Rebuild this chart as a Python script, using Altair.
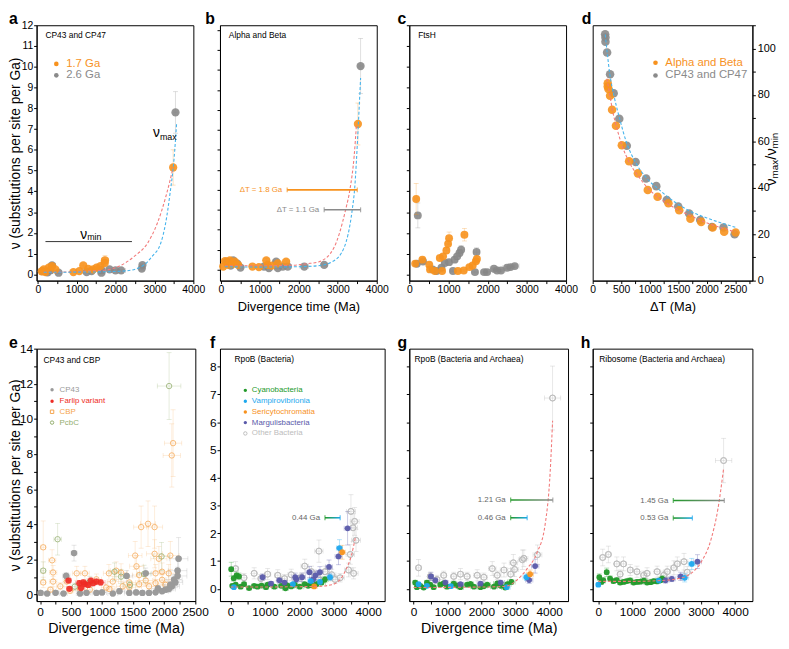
import altair as alt
import pandas as pd

FONT = "Liberation Sans"
ORANGE = "#F7921E"
GRAY = "#8A8A8A"
RED_FIT = "#F27A7A"
BLUE_FIT = "#46B4EC"
CYANO = "#22992A"
VAMP = "#1DA8EE"
SERI = "#F7921E"
MARG = "#5A5AAA"
OTHER = "#BDBDBD"
CP43C = "#9A9A9A"
FARLIP = "#EE2B24"
CBPC = "#F5A54E"
PCBC = "#93AE6E"

DUMMY = pd.DataFrame({"k": [0]})

# ---------------- tick values ----------------
X_TICKS_ABC = [0, 500, 1000, 1500, 2000, 2500, 3000, 3500, 4000]
Y_TICKS_ABC = [0, 0.5, 1, 1.5, 2, 2.5, 3, 3.5, 4, 4.5, 5, 5.5, 6, 6.5, 7, 7.5, 8, 8.5, 9, 9.5, 10, 10.5, 11, 11.5, 12]
X_TICKS_D = [0, 250, 500, 750, 1000, 1250, 1500, 1750, 2000, 2250, 2500, 2750]
Y_TICKS_D = [0, 10, 20, 30, 40, 50, 60, 70, 80, 90, 100, 110]
X_TICKS_E = [0, 250, 500, 750, 1000, 1250, 1500, 1750, 2000, 2250, 2500]
Y_TICKS_E = [0, 1, 2, 3, 4, 5, 6, 7, 8, 9, 10, 11, 12, 13, 14]
X_TICKS_FGH = [0, 500, 1000, 1500, 2000, 2500, 3000, 3500, 4000]
Y_TICKS_FGH = [0, 0.5, 1, 1.5, 2, 2.5, 3, 3.5, 4, 4.5, 5, 5.5, 6, 6.5, 7, 7.5, 8]

# ---------------- data: (x, y, x error, y error) ----------------
A_ORANGE = [(152, 0.24, 60, 0.06), (279, 0.32, 70, 0.08), (195, 0.11, 60, 0.05), (365, 0.40, 80, 0.08),
            (449, 0.24, 70, 0.06), (100, 0.15, 50, 0.05), (914, 0.11, 60, 0.05), (1066, 0.16, 70, 0.05),
            (1168, 0.43, 80, 0.08), (1294, 0.27, 70, 0.06), (1421, 0.24, 80, 0.06), (1508, 0.32, 80, 0.08),
            (1609, 0.40, 90, 0.08), (1718, 0.55, 90, 0.12), (1726, 0.68, 90, 0.22), (3480, 5.15, 40, 0.85)]
A_GRAY = [(111, 0.16, 60, 0.05), (322, 0.20, 70, 0.05), (365, 0.43, 80, 0.08), (533, 0.08, 70, 0.04),
          (250, 0.10, 60, 0.04), (1254, 0.11, 80, 0.04), (1381, 0.16, 80, 0.05), (1635, 0.20, 90, 0.05),
          (1635, 0.08, 90, 0.04), (1845, 0.24, 100, 0.05), (1997, 0.19, 100, 0.05), (2142, 0.19, 110, 0.05),
          (2673, 0.28, 60, 0.06), (2690, 0.45, 60, 0.08), (3540, 7.80, 40, 1.0)]
A_RED_X = [150, 600, 1000, 1400, 1850, 2100, 2480, 2820, 3070, 3300, 3480]
A_RED_Y = [0.10, 0.11, 0.13, 0.17, 0.24, 0.40, 0.87, 1.50, 2.45, 3.80, 5.15]
A_BLUE_X = [150, 1000, 1800, 2270, 2690, 2940, 3160, 3285, 3400, 3500, 3570]
A_BLUE_Y = [0.10, 0.11, 0.13, 0.17, 0.40, 0.87, 1.50, 2.45, 3.90, 5.50, 7.30]

B_ORANGE = [(59, 0.16, 50, 0.05), (102, 0.43, 60, 0.08), (187, 0.24, 60, 0.06), (229, 0.47, 70, 0.1),
            (357, 0.40, 70, 0.1), (441, 0.24, 70, 0.06), (300, 0.30, 60, 0.06), (808, 0.16, 70, 0.05),
            (975, 0.13, 70, 0.05), (1164, 0.47, 80, 0.1), (1200, 0.24, 80, 0.06), (1460, 0.32, 90, 0.06),
            (1673, 0.40, 90, 0.08), (1300, 0.20, 80, 0.05), (3516, 7.30, 40, 1.05)]
B_GRAY = [(144, 0.40, 60, 0.08), (314, 0.47, 70, 0.1), (501, 0.11, 60, 0.04), (250, 0.20, 60, 0.05),
          (420, 0.30, 60, 0.06), (1104, 0.16, 80, 0.05), (1231, 0.08, 80, 0.04), (1418, 0.40, 90, 0.08),
          (1460, 0.08, 90, 0.04), (1588, 0.16, 90, 0.05), (1715, 0.16, 100, 0.05), (2140, 0.16, 110, 0.05),
          (2650, 0.24, 70, 0.05), (3585, 10.20, 40, 1.38)]
B_RED_X = [100, 1000, 1800, 2200, 2520, 2900, 3200, 3310, 3420, 3480]
B_RED_Y = [0.20, 0.20, 0.22, 0.30, 0.40, 1.10, 3.00, 4.00, 5.70, 7.30]
B_BLUE_X = [100, 1000, 2000, 2500, 2860, 3160, 3370, 3430, 3520, 3585]
B_BLUE_Y = [0.15, 0.13, 0.15, 0.20, 0.40, 1.10, 3.00, 4.00, 7.00, 9.60]
B_DT_LABELS = ["ΔT = 1.8 Ga", "ΔT = 1.1 Ga"]
B_DT_START = [1700, 2650]
B_DT_END = [3500, 3585]
B_DT_Y = [4.0, 3.0]

C_ORANGE = [(176, 3.63, 40, 0.75), (151, 0.52, 50, 0.08), (334, 0.71, 60, 0.12), (510, 0.47, 60, 0.1),
            (528, 0.24, 60, 0.06), (653, 0.16, 60, 0.05), (779, 0.79, 70, 0.12), (862, 0.87, 70, 0.12),
            (947, 1.15, 70, 0.15), (990, 1.47, 70, 0.2), (1015, 1.74, 70, 0.3), (1407, 1.91, 80, 0.3),
            (837, 0.16, 60, 0.05), (1240, 0.16, 70, 0.05), (1390, 0.19, 70, 0.05), (1533, 0.35, 80, 0.06),
            (1617, 0.43, 80, 0.08), (1700, 0.63, 80, 0.1), (1725, 0.74, 80, 0.12)]
C_GRAY = [(218, 2.84, 40, 0.6), (193, 0.51, 50, 0.08), (350, 0.62, 60, 0.1), (595, 0.24, 60, 0.06),
          (696, 0.16, 60, 0.05), (821, 0.32, 70, 0.06), (905, 0.55, 70, 0.1), (1015, 0.59, 70, 0.1),
          (1114, 0.16, 70, 0.05), (1156, 0.71, 80, 0.12), (1222, 0.87, 80, 0.15), (1281, 1.03, 80, 0.15),
          (1323, 1.19, 80, 0.2), (1716, 1.08, 80, 0.2), (1675, 0.11, 80, 0.04), (1910, 0.11, 90, 0.04),
          (1985, 0.11, 90, 0.04), (2160, 0.27, 100, 0.05), (2240, 0.19, 100, 0.05), (2340, 0.19, 100, 0.05),
          (2495, 0.32, 110, 0.06), (2580, 0.35, 110, 0.06), (2690, 0.40, 110, 0.06)]

D_GRAY_X = [218, 224, 224, 253, 305, 368, 466, 598, 753, 937, 1115, 1299, 1500, 1690, 1885, 2092, 2293, 2488]
D_GRAY_Y = [106.1, 104.7, 102.9, 98.3, 88.9, 80.7, 69.7, 58.1, 51.1, 44.0, 40.7, 34.7, 31.9, 28.9, 26.1, 23.1, 22.9, 20.0]
D_ORANGE_X = [264, 264, 276, 305, 340, 408, 511, 638, 793, 966, 1138, 1328, 1517, 1713, 1902, 2103, 2305, 2506]
D_ORANGE_Y = [85.0, 83.6, 82.6, 79.6, 73.6, 66.7, 58.3, 51.4, 46.2, 39.0, 36.1, 33.3, 30.3, 26.7, 25.3, 22.9, 21.1, 20.7]
D_BLUE_X = [220, 260, 300, 370, 470, 600, 750, 950, 1150, 1400, 1700, 2000, 2300, 2500]
D_BLUE_Y = [106, 97, 89, 80, 70, 59, 51, 44, 39.5, 34.5, 30, 27, 24.5, 23]
D_RED_X = [250, 300, 350, 410, 510, 640, 800, 1000, 1200, 1500, 1800, 2100, 2500]
D_RED_Y = [87, 80, 73, 67, 58.5, 51, 45, 39, 35, 30.5, 27, 24, 21]

E_CP43 = [(548, 2.36, 50, 0.45), (421, 1.06, 60, 0.2), (2234, 2.04, 150, 1.2), (2218, 1.36, 150, 0.6),
          (2218, 1.06, 150, 0.5), (2181, 0.69, 120, 0.3), (2127, 0.47, 120, 0.25), (2075, 0.32, 110, 0.2),
          (2022, 0.28, 100, 0.15), (1968, 0.19, 100, 0.12), (1863, 0.13, 100, 0.1), (1757, 0.09, 90, 0.08),
          (1650, 0.09, 90, 0.06), (1439, 0.09, 80, 0.05), (1173, 0.06, 80, 0.05), (909, 0.09, 70, 0.05),
          (644, 0.06, 60, 0.05), (378, 0.06, 60, 0.05), (114, 0.06, 50, 0.05), (8, 0.09, 40, 0.05),
          (1704, 1.21, 100, 0.3), (1396, 1.06, 100, 0.3), (1280, 0.19, 90, 0.08), (2100, 0.55, 120, 0.2),
          (2160, 0.85, 130, 0.3), (1900, 0.35, 100, 0.15), (1550, 0.12, 90, 0.06), (1000, 0.12, 70, 0.05),
          (750, 0.10, 60, 0.05), (250, 0.10, 50, 0.05)]
E_FARLIP = [(458, 0.80, 50, 0.15), (474, 0.33, 50, 0.1), (633, 0.65, 60, 0.15), (660, 0.37, 60, 0.1),
            (697, 0.69, 60, 0.15), (722, 0.60, 60, 0.15), (776, 0.55, 60, 0.15), (819, 0.80, 60, 0.15),
            (856, 0.65, 60, 0.15), (909, 0.74, 70, 0.15), (978, 0.69, 70, 0.15)]
E_CBP = [(51, 2.69, 40, 1.5), (194, 1.95, 60, 0.6), (210, 1.26, 60, 0.4), (51, 0.69, 40, 0.3), (210, 0.74, 60, 0.3),
         (432, 0.74, 60, 0.3), (591, 1.21, 70, 0.4), (723, 1.21, 70, 0.4), (1110, 1.21, 90, 0.5),
         (1227, 1.36, 90, 0.5), (1306, 1.25, 100, 0.5), (1534, 2.22, 110, 0.8), (1555, 1.61, 110, 0.6),
         (1630, 3.84, 120, 1.2), (1741, 4.03, 120, 1.3), (1847, 3.84, 130, 1.2), (1847, 2.32, 130, 0.8),
         (1916, 2.04, 130, 0.7), (2101, 2.22, 140, 0.8), (1598, 1.11, 110, 0.5), (1863, 1.21, 130, 0.5),
         (1968, 1.30, 130, 0.5), (2075, 1.21, 140, 0.5), (909, 0.87, 80, 0.3), (1173, 0.74, 90, 0.3),
         (1439, 0.69, 100, 0.3), (1704, 0.80, 110, 0.3), (1968, 0.84, 130, 0.3), (326, 0.47, 60, 0.2),
         (644, 0.32, 70, 0.2), (1067, 0.40, 80, 0.2), (1333, 0.47, 100, 0.2), (1598, 0.59, 110, 0.2),
         (1863, 0.65, 130, 0.2), (167, 0.28, 50, 0.15), (485, 0.22, 60, 0.15), (803, 0.28, 70, 0.15),
         (1120, 0.32, 90, 0.15), (1439, 0.41, 100, 0.2), (1757, 0.47, 120, 0.2), (2022, 0.55, 130, 0.2),
         (2145, 8.62, 140, 1.9), (2124, 7.92, 140, 1.8)]
E_PCBC = [(51, 1.36, 40, 0.5), (283, 3.15, 60, 0.9), (1200, 1.30, 90, 0.5), (1677, 1.17, 110, 0.5),
          (1959, 2.17, 130, 0.8), (1306, 1.02, 100, 0.4), (803, 0.74, 70, 0.3), (2081, 11.87, 190, 1.9),
          (560, 0.45, 60, 0.2), (1450, 0.55, 100, 0.2)]

F_CYANO = [(20, 0.71, 60, 0.25), (176, 0.49, 60, 0.12), (245, 0.45, 60, 0.12), (93, 0.38, 60, 0.1),
           (49, 0.11, 50, 0.05), (294, 0.08, 60, 0.05), (539, 0.03, 70, 0.05), (784, 0.08, 70, 0.05),
           (1029, 0.06, 80, 0.05), (1274, 0.08, 80, 0.05), (1597, 0.02, 90, 0.05), (1764, 0.09, 90, 0.05),
           (2009, 0.08, 100, 0.05), (2254, 0.11, 100, 0.05), (2499, 0.17, 110, 0.06), (2646, 0.23, 110, 0.08),
           (2744, 0.34, 110, 0.1), (392, 0.17, 60, 0.05), (686, 0.11, 70, 0.05), (1078, 0.15, 80, 0.05),
           (1470, 0.11, 90, 0.05), (1862, 0.15, 90, 0.05), (2156, 0.17, 100, 0.06), (150, 0.15, 50, 0.05),
           (900, 0.12, 70, 0.05), (1650, 0.13, 90, 0.05), (2350, 0.14, 100, 0.05)]
F_VAMP = [(3165, 1.47, 90, 0.3), (2891, 0.42, 90, 0.12), (2332, 0.28, 90, 0.1), (98, 0.06, 50, 0.05),
          (1813, 0.17, 90, 0.06), (2600, 0.25, 100, 0.08)]
F_SERI = [(3244, 1.32, 90, 0.25), (2430, 0.09, 90, 0.05)]
F_MARG = [(3401, 2.18, 100, 0.6), (3137, 1.17, 100, 0.3), (2862, 0.79, 100, 0.25), (2597, 0.60, 100, 0.2),
          (2470, 0.49, 100, 0.15), (2293, 0.60, 100, 0.2), (2078, 0.42, 100, 0.15), (1882, 0.42, 100, 0.15),
          (1911, 0.34, 100, 0.12), (1421, 0.31, 90, 0.1), (931, 0.42, 80, 0.12), (1568, 0.23, 90, 0.08),
          (1176, 0.19, 80, 0.08), (2401, 0.34, 100, 0.12)]
F_OTHER = [(3499, 2.79, 130, 0.6), (3606, 2.43, 130, 0.5), (2568, 1.36, 120, 0.4), (3479, 1.24, 120, 0.35),
           (3430, 0.68, 120, 0.25), (3185, 0.40, 120, 0.15), (147, 0.73, 70, 0.25), (686, 0.56, 80, 0.2),
           (1078, 0.53, 90, 0.2), (1764, 0.51, 100, 0.2), (2156, 0.82, 110, 0.25), (2352, 0.62, 110, 0.2),
           (2744, 0.62, 120, 0.2), (2940, 0.51, 120, 0.2), (1372, 0.49, 90, 0.2), (392, 0.40, 70, 0.15),
           (882, 0.37, 80, 0.15), (1568, 0.37, 90, 0.15), (2058, 0.42, 100, 0.15), (2548, 0.40, 110, 0.15),
           (3038, 0.34, 120, 0.15), (3577, 0.56, 130, 0.2), (3646, 1.75, 130, 0.4), (3560, 2.20, 130, 0.5)]
F_RED_X = [0, 1000, 2000, 2550, 2940, 3185, 3350, 3510, 3630]
F_RED_Y = [0.07, 0.07, 0.08, 0.09, 0.15, 0.34, 0.68, 1.20, 1.86]

G_CYANO = [(49, 0.23, 60, 0.08), (198, 0.11, 60, 0.05), (395, 0.23, 60, 0.08), (593, 0.06, 70, 0.05),
           (790, 0.15, 70, 0.05), (988, 0.08, 80, 0.05), (1185, 0.19, 80, 0.06), (1383, 0.06, 90, 0.05),
           (1580, 0.15, 90, 0.05), (1778, 0.08, 90, 0.05), (1975, 0.06, 100, 0.05), (2173, 0.15, 100, 0.05),
           (2370, 0.08, 100, 0.05), (2568, 0.11, 110, 0.05), (2766, 0.17, 110, 0.06), (2884, 0.25, 110, 0.08),
           (99, 0.06, 50, 0.05), (300, 0.05, 60, 0.05), (490, 0.15, 60, 0.05), (890, 0.20, 70, 0.06),
           (1280, 0.12, 80, 0.05), (1680, 0.18, 90, 0.06), (2070, 0.10, 100, 0.05), (2470, 0.20, 110, 0.06),
           (2700, 0.05, 110, 0.05)]
G_VAMP = [(3329, 0.42, 100, 0.12), (2746, 0.06, 100, 0.05), (148, 0.17, 60, 0.06), (395, 0.11, 60, 0.05),
          (1100, 0.10, 80, 0.05)]
G_SERI = [(3437, 0.53, 100, 0.15)]
G_MARG = [(3585, 0.82, 110, 0.25), (3408, 0.32, 110, 0.12), (514, 0.45, 70, 0.15), (642, 0.31, 70, 0.1),
          (938, 0.23, 80, 0.08), (1975, 0.19, 100, 0.06), (2568, 0.23, 110, 0.08), (1383, 0.17, 90, 0.06)]
G_OTHER = [(4099, 6.87, 240, 1.15), (148, 0.76, 70, 0.3), (494, 0.45, 70, 0.15), (889, 0.49, 80, 0.15),
           (1383, 0.53, 90, 0.2), (1877, 0.49, 100, 0.2), (2321, 0.73, 110, 0.25), (2667, 0.68, 110, 0.25),
           (2943, 0.94, 120, 0.3), (3210, 1.05, 120, 0.35), (3654, 1.23, 130, 0.35), (1185, 0.45, 80, 0.15),
           (1580, 0.45, 90, 0.15), (2074, 0.42, 100, 0.15), (2469, 0.49, 110, 0.15), (2864, 0.53, 110, 0.2),
           (691, 0.34, 70, 0.15), (3252, 1.10, 120, 0.3), (2980, 0.70, 120, 0.25)]
G_RED_X = [0, 1500, 2500, 2770, 3010, 3350, 3640, 3880, 4030, 4100]
G_RED_Y = [0.05, 0.06, 0.08, 0.11, 0.28, 0.73, 1.30, 2.32, 4.24, 6.05]

H_CYANO = [(29, 0.42, 50, 0.12), (246, 0.60, 60, 0.15), (147, 0.31, 50, 0.1), (344, 0.37, 60, 0.1),
           (442, 0.28, 60, 0.08), (639, 0.23, 70, 0.08), (835, 0.28, 70, 0.08), (1032, 0.23, 80, 0.08),
           (1229, 0.26, 80, 0.08), (1425, 0.23, 90, 0.08), (1622, 0.28, 90, 0.08), (1818, 0.31, 90, 0.08),
           (1867, 0.37, 90, 0.1), (540, 0.32, 60, 0.08), (740, 0.25, 70, 0.08), (930, 0.31, 80, 0.08),
           (1130, 0.25, 80, 0.08), (1330, 0.30, 90, 0.08), (1530, 0.24, 90, 0.08), (1720, 0.27, 90, 0.08),
           (90, 0.25, 50, 0.08)]
H_VAMP = [(2732, 0.90, 100, 0.2), (2526, 0.40, 100, 0.15), (0, 0.15, 50, 0.06), (1770, 0.30, 90, 0.08)]
H_MARG = [(2899, 0.98, 110, 0.25), (2408, 0.45, 100, 0.15), (1966, 0.31, 100, 0.1), (2150, 0.36, 100, 0.1)]
H_OTHER = [(3663, 4.62, 240, 0.8), (128, 1.13, 70, 0.3), (295, 1.24, 70, 0.3), (541, 0.90, 70, 0.25),
           (737, 0.90, 80, 0.25), (934, 0.68, 80, 0.2), (1130, 0.62, 80, 0.2), (1425, 0.56, 90, 0.2),
           (1720, 0.62, 90, 0.2), (2015, 0.62, 100, 0.2), (2211, 0.76, 100, 0.25), (2310, 0.90, 100, 0.25),
           (2506, 0.98, 110, 0.3), (1916, 0.49, 100, 0.15), (639, 0.53, 70, 0.15), (1327, 0.49, 90, 0.15),
           (2600, 0.60, 110, 0.2)]
H_RED_X = [0, 1000, 1800, 2300, 2700, 3000, 3300, 3500, 3660]
H_RED_Y = [0.27, 0.27, 0.30, 0.36, 0.55, 0.95, 1.80, 2.90, 4.30]

SPAN_LABELS_F = ["0.44 Ga"]
SPAN_F = [(2744, 3185, 2.56)]
SPAN_LABELS_G = ["1.21 Ga", "0.46 Ga"]
SPAN_G = [(2864, 4107, 3.2), (2864, 3350, 2.56)]
SPAN_LABELS_H = ["1.45 Ga", "0.53 Ga"]
SPAN_H = [(2192, 3683, 3.18), (2192, 2750, 2.55)]


# ---------------- helpers ----------------
def axis(values, every, title=None, labels=True, orient=None, lsize=10.5, lpad=1.5, tsize=13, tpad=5,
         title_x=None):
    kw = dict(values=values, format="d",
              labelExpr=f"datum.value % {every} == 0 ? datum.label : ''",
              labels=labels, labelFontSize=lsize, labelPadding=lpad, titleFontSize=tsize,
              titlePadding=tpad, labelFlush=False, labelOverlap=False, tickSize=3, grid=False,
              title=title)
    if orient:
        kw["orient"] = orient
    if title_x is not None:
        kw["titleX"] = title_x
    return alt.Axis(**kw)


class P:
    """Holds one panel's scales and axes, so every layer shares the very same definitions."""

    def __init__(self, sx, sy, ax, ay):
        self.sx, self.sy, self.ax, self.ay = sx, sy, ax, ay

    def X(self, field="x"):
        return alt.X(f"{field}:Q", scale=self.sx, axis=self.ax, title=None)

    def Y(self, field="y"):
        return alt.Y(f"{field}:Q", scale=self.sy, axis=self.ay, title=None)


def scatter(pts, color, p, size, filled=True, opacity=0.9, eop=0.35, sw=1.0):
    b = alt.Chart(pd.DataFrame(pts, columns=["x", "y", "xe", "ye"]))
    ex = b.mark_errorbar(ticks=True, color=color, opacity=eop, thickness=0.8).encode(
        x=p.X(), xError="xe:Q", y=p.Y())
    ey = b.mark_errorbar(ticks=True, color=color, opacity=eop, thickness=0.8).encode(
        x=p.X(), y=p.Y(), yError="ye:Q")
    pt = b.mark_point(filled=filled, size=size, color=color, opacity=opacity, strokeWidth=sw).encode(
        x=p.X(), y=p.Y())
    return [ex, ey], [pt]


def xy_points(xs, ys, color, p, size):
    df = pd.DataFrame({"x": xs, "y": ys})
    return alt.Chart(df).mark_point(filled=True, size=size, color=color, opacity=0.9).encode(x=p.X(), y=p.Y())


def curve(xs, ys, color, p):
    df = pd.DataFrame({"x": xs, "y": ys})
    return alt.Chart(df).mark_line(color=color, strokeDash=[3, 2], strokeWidth=1.1,
                                   interpolate="monotone").encode(x=p.X(), y=p.Y())


def span(label, x0, x1, yv, c0, c1, p, tcolor, fs=8):
    df = pd.DataFrame({"x": [x0], "x2": [x1], "y": [yv], "label": [label]})
    g = alt.Gradient(gradient="linear", x1=0, x2=1, y1=0, y2=0,
                     stops=[alt.GradientStop(color=c0, offset=0), alt.GradientStop(color=c1, offset=1)])
    base = alt.Chart(df)
    bar = base.mark_bar(color=g, size=1.6).encode(x=p.X(), x2="x2:Q", y=p.Y())
    cap0 = base.mark_tick(color=c0, orient="vertical", size=5, thickness=1.2).encode(x=p.X(), y=p.Y())
    cap1 = base.mark_tick(color=c1, orient="vertical", size=5, thickness=1.2).encode(x=p.X("x2"), y=p.Y())
    txt = base.mark_text(align="right", baseline="middle", dx=-5, fontSize=fs, color=tcolor, font=FONT).encode(
        x=p.X(), y=p.Y(), text="label:N")
    return [bar, cap0, cap1, txt]


def ptext(txt, x, y, fs, color="#000", align="left", baseline="middle", weight="normal", angle=None):
    m = dict(text=txt, fontSize=fs, color=color, align=align, baseline=baseline, fontWeight=weight, font=FONT)
    if angle is not None:
        m["angle"] = angle
    return alt.Chart(DUMMY).mark_text(**m).encode(x=alt.value(x), y=alt.value(y))


def dtext(txt, x, y, p, fs, color="#000", align="left", baseline="alphabetic"):
    df = pd.DataFrame({"x": [x], "y": [y]})
    return alt.Chart(df).mark_text(text=txt, fontSize=fs, color=color, align=align, baseline=baseline,
                                   font=FONT).encode(x=p.X(), y=p.Y())


def legend(items, x0, ys, tx, fs, size):
    out = []
    for (lab, col, filled, shape), yy in zip(items, ys):
        out.append(alt.Chart(DUMMY).mark_point(filled=filled, color=col, size=size, opacity=1,
                                               strokeWidth=1, shape=shape).encode(x=alt.value(x0), y=alt.value(yy)))
        out.append(ptext(lab, x0 + tx, yy, fs, color=col))
    return out


def letter(ch, x):
    return ptext(ch, x, -1, 16, align="left", baseline="alphabetic", weight="bold")


W_A, W_B, W_C, W_D = 159, 159, 159, 162
W_E, W_F, W_G, W_H = 161, 167, 161, 162
H1, H2 = 259, 256

sy_abc = alt.Scale(domain=[-0.3, 12], nice=False, zero=False)

# ---------------- panel a ----------------
pa = P(alt.Scale(domain=[-33, 4000], nice=False, zero=False), sy_abc,
       axis(X_TICKS_ABC, 1000),
       axis(Y_TICKS_ABC, 1, title="ν (substitutions per site per Ga)", lpad=1, tsize=14, title_x=-14))
e1, p1 = scatter(A_GRAY, GRAY, pa, 70)
e2, p2 = scatter(A_ORANGE, ORANGE, pa, 70)
numin = alt.Chart(pd.DataFrame({"x": [195], "x2": [2420], "y": [1.58]})).mark_rule(
    color="#333", strokeWidth=1).encode(x=pa.X(), x2="x2:Q", y=pa.Y())
panel_a = alt.layer(
    *p1, *e1, *e2, *p2,
    curve(A_RED_X, A_RED_Y, RED_FIT, pa),
    curve(A_BLUE_X, A_BLUE_Y, BLUE_FIT, pa),
    numin,
    dtext("ν", 1090, 1.72, pa, 14),
    dtext("min", 1270, 1.66, pa, 9),
    dtext("ν", 2960, 6.62, pa, 14),
    dtext("max", 3140, 6.45, pa, 9),
    ptext("CP43 and CP47", 9, 10, 8.5),
    *legend([("1.7 Ga", ORANGE, True, "circle"), ("2.6 Ga", GRAY, True, "circle")], 20, [39.2, 50.8], 10, 11.5, 22),
    letter("a", -28),
).properties(width=W_A, height=H1)

# ---------------- panel b ----------------
pb = P(alt.Scale(domain=[-25, 4000], nice=False, zero=False), sy_abc,
       axis(X_TICKS_ABC, 1000, title="Divergence time (Ma)", tsize=13, tpad=5),
       axis(Y_TICKS_ABC, 1, labels=False))
e1, p1 = scatter(B_GRAY, GRAY, pb, 70)
e2, p2 = scatter(B_ORANGE, ORANGE, pb, 70)
b_spans = []
for lab, x0, x1, yv, col in zip(B_DT_LABELS, B_DT_START, B_DT_END, B_DT_Y, [ORANGE, GRAY]):
    b_spans += span(lab, x0, x1, yv, col, col, pb, col)
panel_b = alt.layer(
    *p1, *e1, *e2, *p2,
    curve(B_RED_X, B_RED_Y, RED_FIT, pb),
    curve(B_BLUE_X, B_BLUE_Y, BLUE_FIT, pb),
    *b_spans,
    ptext("Alpha and Beta", 9, 10, 8.5),
    letter("b", -15),
).properties(width=W_B, height=H1)

# ---------------- panel c ----------------
pc = P(alt.Scale(domain=[0, 4000], nice=False, zero=False), sy_abc,
       axis(X_TICKS_ABC, 1000), axis(Y_TICKS_ABC, 1, labels=False))
e1, p1 = scatter(C_GRAY, GRAY, pc, 64)
e2, p2 = scatter(C_ORANGE, ORANGE, pc, 64)
panel_c = alt.layer(
    *p1, *e1, *e2, *p2,
    ptext("FtsH", 9, 10, 8.5),
    letter("c", -12),
).properties(width=W_C, height=H1)

# ---------------- panel d ----------------
pdd = P(alt.Scale(domain=[0, 2800], nice=False, zero=False), alt.Scale(domain=[0, 110], nice=False, zero=False),
        axis(X_TICKS_D, 500, title="ΔT (Ma)", tsize=13, tpad=5),
        axis(Y_TICKS_D, 20, orient="right", lsize=11, lpad=2))
panel_d = alt.layer(
    xy_points(D_GRAY_X, D_GRAY_Y, GRAY, pdd, 75),
    xy_points(D_ORANGE_X, D_ORANGE_Y, ORANGE, pdd, 75),
    curve(D_BLUE_X, D_BLUE_Y, BLUE_FIT, pdd),
    curve(D_RED_X, D_RED_Y, RED_FIT, pdd),
    *legend([("Alpha and Beta", ORANGE, True, "circle"), ("CP43 and CP47", GRAY, True, "circle")],
            63.7, [38, 51], 10, 11.5, 22),
    ptext("ν", 181, 159, 15, align="center", angle=270),
    ptext("max", 185, 146, 10, align="center", angle=270),
    ptext("/ν", 181, 130.5, 15, align="center", angle=270),
    ptext("min", 185, 117, 10, align="center", angle=270),
    letter("d", -11),
).properties(width=W_D, height=H1)

# ---------------- panel e ----------------
pe = P(alt.Scale(domain=[-56, 2504], nice=False, zero=False), alt.Scale(domain=[-0.37, 14], nice=False, zero=False),
       axis(X_TICKS_E, 500, title="Divergence time (Ma)", lsize=12, lpad=3, tsize=14.5, tpad=4),
       axis(Y_TICKS_E, 2, title="ν (substitutions per site per Ga)", lsize=12, lpad=1, tsize=14, title_x=-14.5))
e3, p3 = scatter(E_CP43, CP43C, pe, 40, eop=0.3)
e1, p1 = scatter(E_CBP, CBPC, pe, 30, filled=False, opacity=0.75, eop=0.25)
e2, p2 = scatter(E_PCBC, PCBC, pe, 30, filled=False, opacity=0.8, eop=0.3)
e4, p4 = scatter(E_FARLIP, FARLIP, pe, 40, eop=0.35)
panel_e = alt.layer(
    *p3, *e1, *e2, *e3, *e4, *p1, *p2, *p3, *p4,
    ptext("CP43 and CBP", 7, 12, 8.5),
    *legend([("CP43", CP43C, True, "circle"), ("Farlip variant", FARLIP, True, "circle"),
             ("CBP", CBPC, False, "square"), ("PcbC", PCBC, False, "circle")],
            15.7, [41.7, 53.3, 64, 75], 7.6, 8, 12),
    letter("e", -28),
).properties(width=W_E, height=H2)

# ---------------- panels f, g, h ----------------
sy_fgh = alt.Scale(domain=[-0.26, 8.47], nice=False, zero=False)


def bacteria_panel(p, other, cyano, marg, vamp, seri, red_x, red_y, spans, title, tx, letter_layer,
                   legend_on=False, w=160):
    layers_e, layers_p = [], []
    e, pt = scatter(other, OTHER, p, 36, filled=False, opacity=0.9, eop=0.45)
    layers_e += e
    layers_p += pt
    for pts, col in [(cyano, CYANO), (marg, MARG), (vamp, VAMP), (seri, SERI)]:
        if pts:
            e, pt = scatter(pts, col, p, 34, opacity=0.95, eop=0.4)
            layers_e += e
            layers_p += pt
    extra = []
    for (lab, (x0, x1, yv)), c1 in spans:
        extra += span(lab, x0, x1, yv, CYANO, c1, p, "#666")
    layers = [layers_p[0]] + layers_e + layers_p + [curve(red_x, red_y, RED_FIT, p)] + extra
    layers.append(ptext(title, tx, 10.7, 8.5))
    if legend_on:
        layers += legend([("Cyanobacteria", CYANO, True, "circle"), ("Vampirovibrionia", VAMP, True, "circle"),
                          ("Sericytochromatia", SERI, True, "circle"), ("Margulisbacteria", MARG, True, "circle"),
                          ("Other Bacteria", OTHER, False, "circle")],
                         25.7, [42.3, 53.3, 64.3, 75, 86], 6.6, 8, 12)
    layers.append(letter_layer)
    return alt.layer(*layers).properties(width=w, height=H2)


pf = P(alt.Scale(domain=[-307, 4478], nice=False, zero=False), sy_fgh,
       axis(X_TICKS_FGH, 1000, lsize=12, lpad=3), axis(Y_TICKS_FGH, 1, lsize=12, lpad=1))
panel_f = bacteria_panel(pf, F_OTHER, F_CYANO, F_MARG, F_VAMP, F_SERI, F_RED_X, F_RED_Y,
                         [((SPAN_LABELS_F[0], SPAN_F[0]), VAMP)], "RpoB (Bacteria)", 14.7,
                         letter("f", -10), legend_on=True, w=W_F)

pg = P(alt.Scale(domain=[-125, 4555], nice=False, zero=False), sy_fgh,
       axis(X_TICKS_FGH, 1000, title="Divergence time (Ma)", lsize=12, lpad=3, tsize=14.5, tpad=4),
       axis(Y_TICKS_FGH, 1, labels=False))
panel_g = bacteria_panel(pg, G_OTHER, G_CYANO, G_MARG, G_VAMP, G_SERI, G_RED_X, G_RED_Y,
                         [((SPAN_LABELS_G[0], SPAN_G[0]), GRAY), ((SPAN_LABELS_G[1], SPAN_G[1]), VAMP)],
                         "RpoB (Bacteria and Archaea)", 5.3, letter("g", -12), w=W_G)

ph = P(alt.Scale(domain=[-164, 4505], nice=False, zero=False), sy_fgh,
       axis(X_TICKS_FGH, 1000, lsize=12, lpad=3), axis(Y_TICKS_FGH, 1, labels=False))
panel_h = bacteria_panel(ph, H_OTHER, H_CYANO, H_MARG, H_VAMP, [], H_RED_X, H_RED_Y,
                         [((SPAN_LABELS_H[0], SPAN_H[0]), GRAY), ((SPAN_LABELS_H[1], SPAN_H[1]), VAMP)],
                         "Ribosome (Bacteria and Archaea)", 6.7, letter("h", -12), w=W_H)

chart = alt.concat(
    panel_a, panel_b, panel_c, panel_d, panel_e, panel_f, panel_g, panel_h,
    columns=4, spacing={"row": 69, "column": 25}, bounds="flush", align="none",
).properties(
    padding={"left": 0, "top": -2, "right": 0, "bottom": 0}
).configure(font=FONT).configure_view(
    stroke="#000", strokeWidth=1
).configure_axis(
    labelFont=FONT, titleFont=FONT, labelColor="#000", titleColor="#000", tickColor="#000",
    domainColor="#000", titleFontWeight="normal", grid=False
)

chart.save("out.html", embed_options={"renderer": "svg", "actions": False})
